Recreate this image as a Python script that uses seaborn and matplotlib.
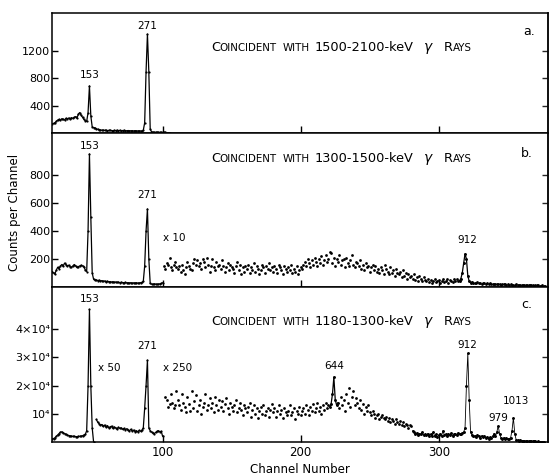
import numpy as np
import pandas as pd
import matplotlib
matplotlib.use("Agg")
import matplotlib.pyplot as plt
import matplotlib.transforms as mtransforms
import seaborn as sns

# ---------------- data (counts per channel) ----------------
# Panel a: coincident with 1500-2100 keV gamma rays (one connected trace)
a_start = 20
a_counts = [130, 140, 150, 170, 190, 200, 185, 210, 200, 190, 215, 205, 220, 210, 225, 215,
            230, 240, 220, 280, 300, 260, 230, 200, 180, 170,
            300, 690, 250, 90, 80, 75, 60, 55, 50,
            45, 40, 42, 38, 40, 35, 38, 40, 36, 34, 38, 36, 40, 35, 38, 34, 36, 38, 35, 33,
            36, 34, 32, 35, 30, 34, 32, 30, 33, 30, 28,
            40, 150, 900, 1450, 900, 60, 15,
            12, 10, 10, 12, 10, 8, 10, 9, 8, 10, 6, 5, 4]

# Panel b: coincident with 1300-1500 keV gamma rays
b1_start = 20
b1_counts = [110, 100, 95, 120, 140, 130, 150, 160, 150, 170, 160, 150, 155, 145, 140, 150,
             160, 150, 140, 145, 150, 155, 150, 145, 120, 110,
             400, 950, 500, 100, 55, 50,
             50, 45, 48, 42, 45, 40, 42, 38, 40, 36, 38, 35, 37, 33, 35, 32, 34, 30, 33, 31,
             30, 32, 29, 30, 28, 30, 27, 29, 28, 30, 27, 28, 30, 32,
             40, 150, 400, 557, 200, 25,
             20, 18, 22, 20, 18, 20, 22, 25, 30]
b2_start = 101   # "x 10" region
b2_counts = [150, 130, 170, 160, 210, 140, 120, 160, 175, 140,
             130, 150, 110, 160, 120, 90, 140, 180, 150, 130,
             120, 170, 200, 160, 190, 150, 170, 130, 200, 180,
             140, 210, 160, 110, 150, 200, 140, 120, 180, 150,
             160, 130, 190, 150, 110, 140, 170, 120, 160, 140,
             130, 100, 150, 180, 120, 160, 90, 140, 110, 150,
             130, 160, 100, 140, 120, 170, 110, 150, 130, 90,
             120, 160, 140, 100, 150, 130, 170, 120, 140, 110,
             150, 130, 100, 160, 140, 120, 90, 150, 130, 110,
             140, 120, 160, 100, 130, 110, 150, 90, 120, 140,
             130, 160, 180, 150, 200, 170, 140, 190, 160, 210,
             180, 150, 200, 170, 220, 160, 190, 230, 180, 200,
             250, 240, 170, 210, 150, 200, 180, 230, 160, 190,
             200, 140, 210, 170, 150, 190, 230, 160, 140, 180,
             170, 150, 190, 130, 160, 120, 170, 140, 150, 110,
             140, 160, 120, 150, 110, 130, 100, 140, 120, 90,
             160, 130, 110, 90, 140, 100, 120, 80, 130, 100,
             90, 110, 70, 120, 80, 100, 60, 90, 70, 80,
             60, 90, 50, 70, 40, 80, 60, 40, 70, 50,
             40, 60, 35, 50, 30, 45, 55, 35, 40, 50,
             30, 45, 55, 35, 40, 60, 30, 50, 40, 35,
             55, 40, 60, 45, 45, 60, 100, 170, 236, 200, 80, 40,
             30, 35, 25, 30, 28, 32, 25, 30, 22, 28, 25, 20, 26, 22, 25, 20, 23,
             20, 22, 18, 24, 20, 16, 22, 18, 20, 15, 18, 16, 20, 14, 17, 15, 18, 13, 16, 14,
             12, 15, 13, 16, 12, 14, 11, 13, 12, 10, 14, 11, 12, 10, 9, 12, 10, 8]

# Panel c: coincident with 1180-1300 keV gamma rays
c1_start = 20
c1_counts = [1000, 1200, 1500, 2000, 2500, 3000, 3500, 3600, 3300, 3000, 2700, 2500, 2300,
             2200, 2100, 2000, 2000, 1900, 1900, 2000, 2000, 2100, 2200, 2500, 2700, 4000,
             20000, 47000, 20000, 5000, 0]
c2_start = 52    # "x 50" region
c2_counts = [8000, 7000, 6500, 6000, 6200, 5500, 6000, 5200, 5800,
             5000, 5400, 5600, 4800, 5300, 5000, 4600, 5200, 4800, 5000,
             4500, 4800, 4400, 4700, 4200, 4000, 4500, 3800, 4200, 3700,
             4000, 3600, 4100, 3800, 4200, 5000,
             12000, 20000, 29000, 5000, 4000,
             3500, 3200, 3000, 3400, 3800, 4000, 3600, 3800, 2000]
c3_start = 102   # "x 250" region
c3_counts = [16000, 15000, 12500, 13500, 17000, 14000, 12000, 13000, 18000,
             15000, 13000, 11500, 17000, 14000, 12500, 10500, 16000, 13500, 11000,
             18000, 12000, 14500, 16500, 11000, 13000, 15000, 10000, 12500, 14000,
             17000, 11500, 13000, 15500, 12000, 14000, 10500, 16000, 13000, 11500,
             15000, 12500, 14500, 11000, 13500, 15500, 12000, 10000, 14000, 12500,
             11000, 13000, 15000, 10500, 12000, 14000, 11500, 9500, 13000, 12000,
             10500, 12500, 14000, 9000, 11500, 13000, 10000, 12000, 8500, 11000,
             12500, 10000, 13000, 9500, 11000, 12000, 9000, 11500, 13500, 10500,
             12000, 9000, 11000, 13000, 10000, 11500, 8500, 12000, 10500, 9500,
             11000, 13000, 9500, 10500, 12000, 8000, 11000, 10000, 12500, 9500,
             11000, 12000, 10000, 13000, 11500, 9500, 12500, 11000, 13500, 10500,
             12000, 14000, 11000, 12500, 10000, 13000, 11500, 14000, 12000, 13000,
             12500, 13500, 17000, 23000, 15000, 13000,
             14000, 12000, 16000, 13000, 15000, 11000, 17000, 14000, 19000, 12500,
             16000, 18000, 13000, 15500,
             14000, 12000, 15000, 11500, 13500, 10000, 12500, 11000, 13000, 10500,
             9500, 11000, 10000, 8500, 9500, 10000, 8000, 9000, 9500, 8500,
             8000, 9000, 7500, 8500, 7000, 8000, 7500, 6500, 8000, 7000,
             6500, 7500, 6000, 7000, 5500, 6500, 6000, 5000, 6000, 5500,
             4000, 3500, 3000, 3200, 2500, 3000, 2800, 3500, 2500, 2800,
             2500, 3000, 2000, 2800, 2200, 3500, 2000, 2700, 1800, 2500,
             3000, 2200, 4000, 2500, 2800, 2000, 3000, 2500, 3200, 2200,
             2800, 3000, 2500, 3300, 2700, 3000, 3200, 3500, 5000,
             20000, 31400, 15000, 3500,
             2500, 2000, 2200, 1800, 2500, 2000, 1500, 2200, 1800, 2000, 1500, 1800, 1200,
             1600, 1500, 2000, 3000,
             2000, 3500, 5700, 3000, 1500,
             1200, 1500, 1000, 1300, 900, 1200, 1500,
             4000, 8600, 3000, 800,
             600, 500, 700, 400, 500, 300, 400, 350, 300, 250, 300, 200, 250, 200, 150,
             200, 150, 100, 150, 100]

# axis settings
x_range = (20, 379)
x_ticks = [100, 200, 300]
ylim_a, yticks_a, ylabels_a = (0, 1760), [400, 800, 1200], ["400", "800", "1200"]
ylim_b, yticks_b, ylabels_b = (0, 1100), [200, 400, 600, 800], ["200", "400", "600", "800"]
ylim_c, yticks_c = (0, 55000), [10000, 20000, 30000, 40000]
ylabels_c = ["10⁴", "2×10⁴", "3×10⁴", "4×10⁴"]

# peak labels: (text, channel, counts)
peaks_a = [("153", 47, 800), ("271", 89, 1520)]
peaks_b = [("153", 47.5, 985), ("271", 89, 636), ("912", 320.6, 314)]
peaks_c = [("153", 47, 49500), ("271", 89, 32900), ("644", 224, 26000),
           ("912", 320.6, 33200), ("979", 343, 7500), ("1013", 356, 13600)]
scale_b = [("x 10", 100, 329)]
scale_c = [("x 50", 53.5, 25000), ("x 250", 100.5, 25000)]


def seg(start, counts):
    ch = np.arange(start, start + len(counts))
    return pd.DataFrame({"channel": ch, "counts": np.asarray(counts, float)})


A = seg(a_start, a_counts)
B1, B2 = seg(b1_start, b1_counts), seg(b2_start, b2_counts)
C1, C2, C3 = seg(c1_start, c1_counts), seg(c2_start, c2_counts), seg(c3_start, c3_counts)

# ---------------- figure ----------------
sns.set_theme(style="white")
plt.rcParams["font.family"] = ["DejaVu Sans"]
plt.rcParams["axes.linewidth"] = 1.1

fig = plt.figure(figsize=(5.49, 4.75), dpi=100)
L, W = 0.095, 0.903
axA = fig.add_axes([L, 0.720, W, 0.2526])
axB = fig.add_axes([L, 0.396, W, 0.324])
axC = fig.add_axes([L, 0.0695, W, 0.3265])

K = "black"


def line(ax, df, lw=0.9):
    sns.lineplot(data=df, x="channel", y="counts", ax=ax, color=K, lw=lw, estimator=None,
                 sort=False, marker="o", markersize=1.6, markeredgewidth=0, legend=False)


def dots(ax, df, s=4):
    sns.scatterplot(data=df, x="channel", y="counts", ax=ax, color=K, s=s, linewidth=0,
                    legend=False)


line(axA, A)
line(axB, B1)
dots(axB, B2)
line(axB, B2[(B2.channel >= 315) & (B2.channel <= 325)])
line(axC, C1)
line(axC, C2)
dots(axC, C3)
line(axC, C3[(C3.channel >= 221) & (C3.channel <= 227)])
line(axC, C3[C3.channel >= 281], lw=0.6)

for ax, ylim, yt, yl in [(axA, ylim_a, yticks_a, ylabels_a),
                         (axB, ylim_b, yticks_b, ylabels_b),
                         (axC, ylim_c, yticks_c, ylabels_c)]:
    ax.set_xlim(*x_range)
    ax.set_ylim(*ylim)
    ax.set_yticks(yt)
    ax.set_yticklabels(yl)
    ax.set_xticks(x_ticks)
    ax.set_xlabel("")
    ax.set_ylabel("")
    ax.tick_params(axis="y", direction="in", length=4, width=1, pad=1.5, labelsize=8,
                   left=True, colors=K)
    ax.tick_params(axis="x", direction="in", length=5, width=1, pad=3, labelsize=8.5,
                   bottom=True, colors=K)
    sec = ax.secondary_yaxis("right")
    sec.set_yticks(yt)
    sec.set_yticklabels([])
    sec.tick_params(direction="in", length=4, width=1)
    for sp in ax.spines.values():
        sp.set_color(K)
        sp.set_visible(True)
    ax.set_facecolor("white")

axA.tick_params(axis="x", labelbottom=False)
axB.tick_params(axis="x", labelbottom=False)


def peak_labels(ax, items, fs=7.5, ha="center"):
    for t, x, y in items:
        ax.text(x, y, t, ha=ha, va="baseline", fontsize=fs, color=K)


peak_labels(axA, peaks_a)
peak_labels(axB, peaks_b)
peak_labels(axC, peaks_c)
peak_labels(axB, scale_b, ha="left")
peak_labels(axC, scale_c, ha="left")

renderer = fig.canvas.get_renderer()


def smallcaps(ax, x, y, rng):
    big, small = 9.3, 7.4
    segs = [("C", big, 0), ("OINCIDENT", small, 0), ("WITH", small, 6),
            (rng + "-keV", big, 5), (r"$\gamma$", 10, 9), ("R", big, 10), ("AYS", small, 0)]
    xoff = 0.0
    for s, fs, gap in segs:
        xoff += gap
        tr = mtransforms.offset_copy(ax.transAxes, fig=fig, x=xoff, y=0, units="dots")
        t = ax.text(x, y, s, transform=tr, fontsize=fs, va="baseline", ha="left", color=K)
        xoff += t.get_window_extent(renderer).width


smallcaps(axA, 0.32, 0.683, "1500-2100")
smallcaps(axB, 0.32, 0.81, "1300-1500")
smallcaps(axC, 0.32, 0.753, "1180-1300")

axA.text(0.95, 0.817, "a.", transform=axA.transAxes, fontsize=9, va="baseline", color=K)
axB.text(0.946, 0.844, "b.", transform=axB.transAxes, fontsize=9, va="baseline", color=K)
axC.text(0.946, 0.864, "c.", transform=axC.transAxes, fontsize=9, va="baseline", color=K)

fig.text(0.027, 0.552, "Counts per Channel", rotation=90, ha="center", va="center",
         fontsize=8.5, color=K)
fig.text(0.546, 0.012, "Channel Number", ha="center", va="center", fontsize=8.5, color=K)

fig.savefig("out.png", dpi=100, facecolor="white")
